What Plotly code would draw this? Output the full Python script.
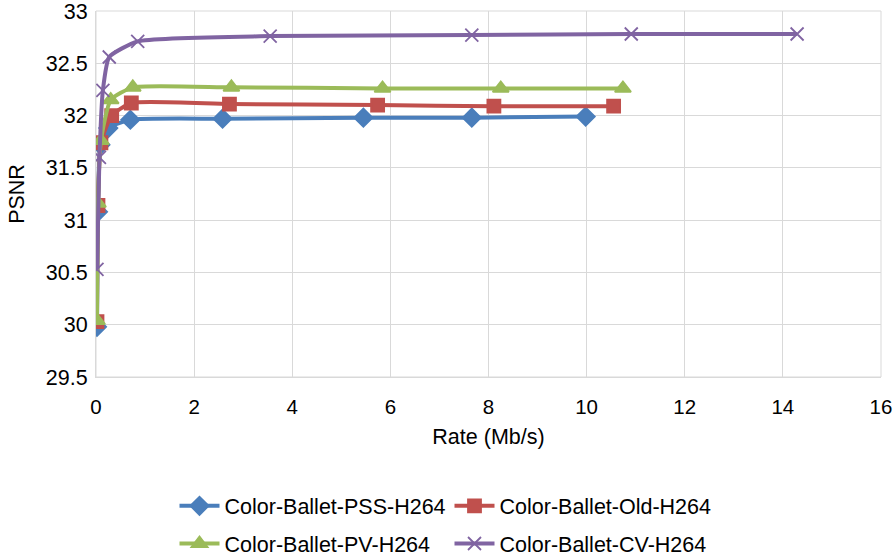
import plotly.graph_objects as go

# Data (Rate in Mb/s, PSNR in dB)
pss_rate = [0.02, 0.04, 0.09, 0.25, 0.70, 2.58, 5.45, 7.66, 9.98]
pss_psnr = [29.98, 31.08, 31.72, 31.88, 31.96, 31.97, 31.98, 31.98, 31.99]

old_rate = [0.02, 0.04, 0.10, 0.32, 0.72, 2.72, 5.74, 8.11, 10.55]
old_psnr = [30.03, 31.14, 31.74, 32.00, 32.12, 32.11, 32.10, 32.09, 32.09]

pv_rate = [0.02, 0.04, 0.10, 0.30, 0.75, 2.76, 5.84, 8.25, 10.74]
pv_psnr = [30.04, 31.16, 31.76, 32.15, 32.27, 32.27, 32.26, 32.26, 32.26]

cv_rate = [0.02, 0.07, 0.14, 0.27, 0.85, 3.55, 7.66, 10.91, 14.29]
cv_psnr = [30.53, 31.60, 32.24, 32.56, 32.71, 32.76, 32.77, 32.78, 32.78]

x_ticks = [0, 2, 4, 6, 8, 10, 12, 14, 16]
y_ticks = [29.5, 30, 30.5, 31, 31.5, 32, 32.5, 33]

FONT = "Liberation Sans, Arial"
FS = 21.5

series = [
    ("Color-Ballet-PSS-H264", pss_rate, pss_psnr, "#4A7EBB", "diamond", 14, "legend"),
    ("Color-Ballet-Old-H264", old_rate, old_psnr, "#C0504D", "square", 13, "legend"),
    ("Color-Ballet-PV-H264", pv_rate, pv_psnr, "#9BBB59", "triangle-up", 14, "legend2"),
    ("Color-Ballet-CV-H264", cv_rate, cv_psnr, "#8064A2", "x-thin", 13, "legend2"),
]

fig = go.Figure()
for name, xs, ys, col, sym, sz, lg in series:
    fig.add_trace(go.Scatter(
        x=xs, y=ys, name=name, mode="lines+markers", legend=lg,
        line=dict(color=col, width=4, shape="spline", smoothing=0.5),
        marker=dict(symbol=sym, size=sz, color=col,
                    line=dict(color=col, width=1.8)),
    ))

leg_common = dict(orientation="h", xanchor="left", x=0.1, yanchor="middle",
                  entrywidth=220, font=dict(family=FONT, size=FS, color="#000000"),
                  itemwidth=40, bgcolor="rgba(0,0,0,0)")

fig.update_layout(
    width=894, height=556,
    margin=dict(l=96, r=13, t=11, b=179, autoexpand=False),
    paper_bgcolor="white", plot_bgcolor="white",
    font=dict(family=FONT, size=FS, color="#000000"),
    showlegend=True,
    legend=dict(leg_common, y=-0.352),
    legend2=dict(leg_common, y=-0.455),
    xaxis=dict(range=[0, 16], tickvals=x_ticks, showgrid=True, gridcolor="#D9D9D9",
               gridwidth=1, zeroline=False, showline=True, linecolor="#D9D9D9",
               automargin=False, ticklabelstandoff=11, ticklabeloverflow="allow",
               title=dict(text="Rate (Mb/s)", font=dict(family=FONT, size=FS), standoff=12),
               tickfont=dict(family=FONT, size=20.5), ticks=""),
    yaxis=dict(range=[29.5, 33], tickvals=y_ticks, showgrid=True, gridcolor="#D9D9D9",
               gridwidth=1, zeroline=False, showline=True, linecolor="#D9D9D9",
               automargin=False, ticklabelstandoff=3, ticklabeloverflow="allow",
               title=dict(text="PSNR", font=dict(family=FONT, size=FS), standoff=15),
               tickfont=dict(family=FONT, size=FS), ticks=""),
)
fig.add_shape(type="rect", xref="paper", yref="paper", x0=0, x1=1, y0=0, y1=1,
              line=dict(color="#D9D9D9", width=1), layer="below")

fig.write_html("out.html", config={"displayModeBar": False},
               post_script="document.body.style.margin='0';")
